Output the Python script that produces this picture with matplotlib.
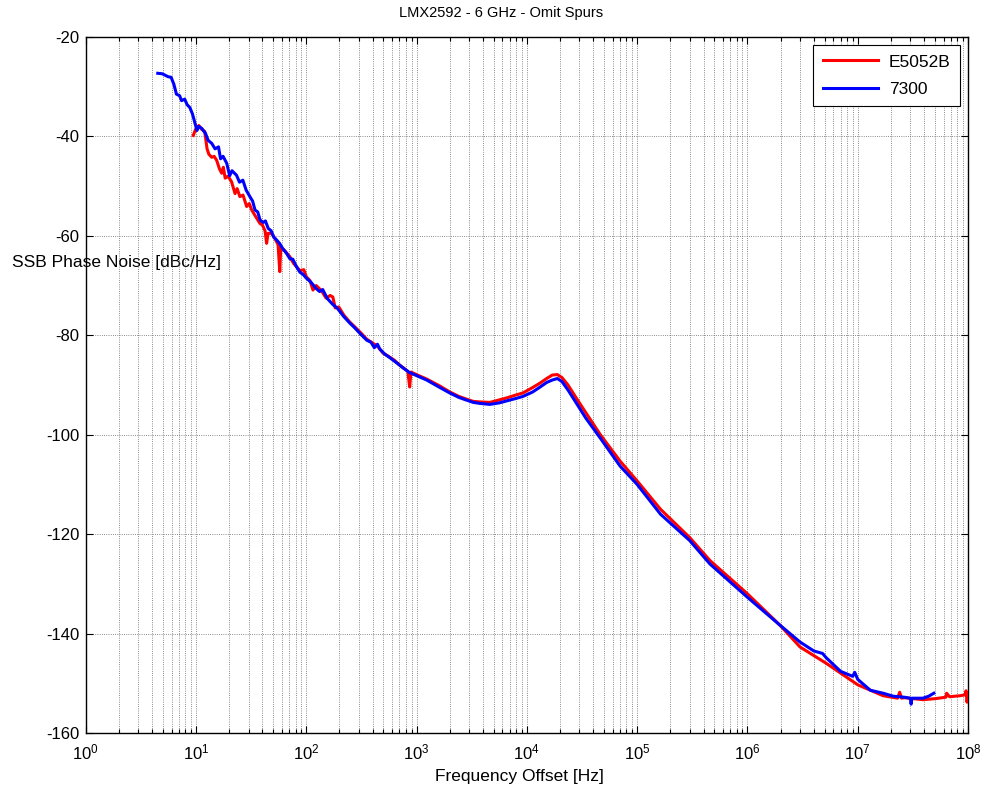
import matplotlib
matplotlib.use("Agg")
import matplotlib.pyplot as plt
from matplotlib import font_manager
from matplotlib.ticker import LogLocator, FixedLocator, NullFormatter

plt.rcParams['font.family'] = ['Liberation Sans', 'DejaVu Sans']
plt.rcParams['mathtext.fontset'] = 'custom'
plt.rcParams['mathtext.rm'] = 'Liberation Sans'
plt.rcParams['mathtext.it'] = 'Liberation Sans:italic'
plt.rcParams['mathtext.bf'] = 'Liberation Sans:bold'
plt.rcParams['axes.unicode_minus'] = False

title = "LMX2592 - 6 GHz - Omit Spurs"
xlabel = "Frequency Offset [Hz]"
ylabel = "SSB Phase Noise [dBc/Hz]"
series_names = ["E5052B", "7300"]

# E5052B (red)
red_f = [9.45, 9.9, 10.6, 11.3, 12.0, 12.6, 13.1, 13.9, 14.6, 15.4, 16.3, 17.1, 17.7, 18.4,
         19.5, 21.0, 22.6, 23.6, 25.0, 26.7, 28.8, 30.4, 32.0, 34.5, 38.0, 40.0, 42.3, 43.7,
         45.0, 48.4, 51.9, 55.5, 57.5, 58.7, 63.8, 71.0, 76.5, 81.5, 87.5, 95, 100, 108, 115,
         123, 137, 151, 165, 174, 183, 197, 220, 247, 275, 312, 354, 396, 442, 498, 554, 628,
         703, 787, 834, 866, 890, 1020, 1235, 1625, 1998, 2420, 2800, 3270, 3740, 4620, 5620,
         6560, 7980, 9210, 11300, 13200, 15100, 17000, 18900, 20800, 23600, 28400, 34100,
         46400, 70000, 100000, 163000, 300000, 457000, 1000000, 1970000, 3000000, 5200000,
         10000000, 17000000, 23000000, 24000000, 25000000, 26400000, 39000000, 50000000,
         63000000, 64000000, 68000000, 85000000, 95000000, 96000000, 98000000, 100000000]
red_db = [-39.8, -38.6, -37.8, -38.6, -39.0, -42.5, -43.6, -44.2, -44.0, -44.8, -46.5, -47.4,
          -46.2, -48.4, -48.0, -49.1, -51.5, -50.5, -52.1, -51.8, -54.1, -53.5, -54.8, -56.0,
          -57.5, -57.8, -59.0, -61.5, -59.5, -59.5, -60.5, -61.8, -67.2, -62.2, -63.0, -64.2,
          -65.5, -66.2, -67.0, -66.8, -68.2, -69.0, -70.9, -70.0, -71.0, -72.5, -72.0, -72.3,
          -74.5, -74.3, -76.0, -77.3, -78.3, -79.5, -80.8, -81.5, -82.2, -83.6, -84.2, -85.0,
          -86.0, -86.8, -87.3, -90.4, -87.4, -88.0, -88.8, -90.2, -91.4, -92.3, -92.8, -93.3,
          -93.4, -93.5, -93.0, -92.6, -92.0, -91.6, -90.5, -89.6, -88.7, -88.0, -87.9, -88.5,
          -90.0, -92.8, -95.5, -100.0, -105.3, -109.3, -115.0, -120.7, -125.3, -132.0, -138.3,
          -142.7, -146.0, -150.3, -152.5, -153.0, -151.8, -153.0, -152.9, -153.3, -153.1,
          -152.8, -152.0, -152.7, -152.5, -152.3, -151.5, -153.8, -152.3]

# 7300 (blue)
blue_f = [4.5, 4.95, 5.6, 5.95, 6.3, 6.65, 7.1, 7.4, 7.9, 8.3, 8.8, 9.3, 9.7, 10.2, 10.6, 11.3,
          12.2, 12.9, 13.9, 14.9, 16.0, 16.7, 17.6, 19.0, 20.2, 21.2, 23.3, 24.8, 26.6, 28.5,
          30.8, 32.6, 34.3, 36.3, 38.1, 40.7, 42.6, 45.2, 48.1, 50.8, 53.7, 57.2, 60.9, 66.2,
          71.0, 75.5, 81.5, 87.5, 94, 100, 110, 123, 132, 141, 155, 174, 192, 220, 247, 275,
          312, 354, 386, 414, 442, 465, 516, 572, 665, 758, 866, 1020, 1235, 1625, 1998, 2420,
          2800, 3270, 3740, 4620, 5620, 6560, 7980, 9210, 11300, 13200, 15100, 17000, 18900,
          20800, 23600, 28400, 34100, 46400, 70000, 100000, 163000, 300000, 457000, 1000000,
          1970000, 3000000, 4000000, 4800000, 5200000, 7000000, 9000000, 9400000, 10000000,
          13000000, 17000000, 21000000, 26400000, 30000000, 30500000, 31000000, 39000000,
          44000000, 49000000]
blue_db = [-27.3, -27.4, -28.0, -28.1, -29.5, -31.5, -31.8, -32.8, -32.5, -33.6, -34.2, -35.5,
           -37.0, -38.8, -38.0, -38.4, -39.4, -40.8, -41.4, -42.5, -42.1, -44.5, -44.0, -45.4,
           -47.9, -46.9, -47.8, -49.2, -48.8, -50.8, -52.1, -53.0, -54.8, -55.2, -56.8, -57.3,
           -57.0, -58.5, -59.0, -60.3, -60.8, -61.5, -62.5, -63.5, -64.6, -64.7, -66.2, -67.3,
           -67.8, -68.5, -69.3, -70.6, -71.2, -70.8, -72.6, -73.8, -74.6, -76.3, -77.5, -78.5,
           -79.8, -81.0, -81.4, -82.5, -81.8, -82.8, -83.8, -84.5, -85.6, -86.6, -87.5, -88.2,
           -89.0, -90.5, -91.6, -92.5, -93.0, -93.5, -93.7, -93.9, -93.6, -93.2, -92.7, -92.3,
           -91.4, -90.4, -89.5, -89.0, -88.7, -89.3, -91.0, -93.8, -96.6, -100.7, -106.3,
           -110.0, -116.0, -121.3, -126.0, -132.7, -138.3, -141.7, -143.5, -144.0, -144.9,
           -147.6, -148.6, -147.8, -149.2, -151.4, -152.0, -152.6, -152.8, -153.0, -154.2,
           -153.0, -153.0, -152.6, -152.0]

x_major = [1e0, 1e1, 1e2, 1e3, 1e4, 1e5, 1e6, 1e7, 1e8]
y_ticks = [-160, -140, -120, -100, -80, -60, -40, -20]

W, H = 985, 793
fig = plt.figure(figsize=(W / 100, H / 100), dpi=100)
L, R, T, B = 85.7, 968, 37, 733
ax = fig.add_axes([L / W, 1 - B / H, (R - L) / W, (B - T) / H])
ax.set_facecolor('none')

ax.plot(red_f, red_db, color='#ff0000', lw=2.2, label=series_names[0], zorder=3)
ax.plot(blue_f, blue_db, color='#0000ff', lw=2.2, label=series_names[1], zorder=3)

ax.set_xscale('log')
ax.set_xlim(1e0, 1e8)
ax.set_ylim(-160, -20)
ax.xaxis.set_major_locator(FixedLocator(x_major))
ax.xaxis.set_minor_locator(LogLocator(base=10, subs=range(2, 10), numticks=20))
ax.xaxis.set_minor_formatter(NullFormatter())
ax.set_yticks(y_ticks)

ax.grid(True, which='major', axis='both', linestyle=':', color='0.4', lw=0.6)
ax.grid(True, which='minor', axis='x', linestyle=':', color='0.4', lw=0.6)
ax.set_axisbelow(True)

ax.tick_params(which='both', direction='in', top=True, right=True, labelsize=12, width=0.8)
ax.tick_params(which='major', length=5)
ax.tick_params(which='minor', length=3)
ax.tick_params(axis='y', pad=4.5)
ax.tick_params(axis='x', pad=7)
for s in ax.spines.values():
    s.set_linewidth(1.0)

# title font: narrow variant if available
try:
    font_manager.findfont('Liberation Sans Narrow', fallback_to_default=False)
    title_font = ['Liberation Sans Narrow', 'Liberation Sans']
    title_size = 12.5
except Exception:
    title_font = ['Liberation Sans', 'DejaVu Sans']
    title_size = 10.5
fig.text(501 / W, 1 - 13 / H, title, fontsize=title_size, family=title_font,
         ha='center', va='center')
fig.text(519 / W, 1 - 777 / H, xlabel, fontsize=12.5, ha='center', va='center')
fig.text(12 / W, 1 - 263 / H, ylabel, fontsize=12.5, ha='left', va='center', zorder=-1)

leg = ax.legend(loc='upper right', fontsize=12.5, fancybox=False, edgecolor='black',
                framealpha=1, borderaxespad=0.45, handlelength=3.2, handletextpad=0.6,
                borderpad=0.55, labelspacing=0.7)
leg.get_frame().set_linewidth(0.8)

fig.savefig('out.png', dpi=100)
